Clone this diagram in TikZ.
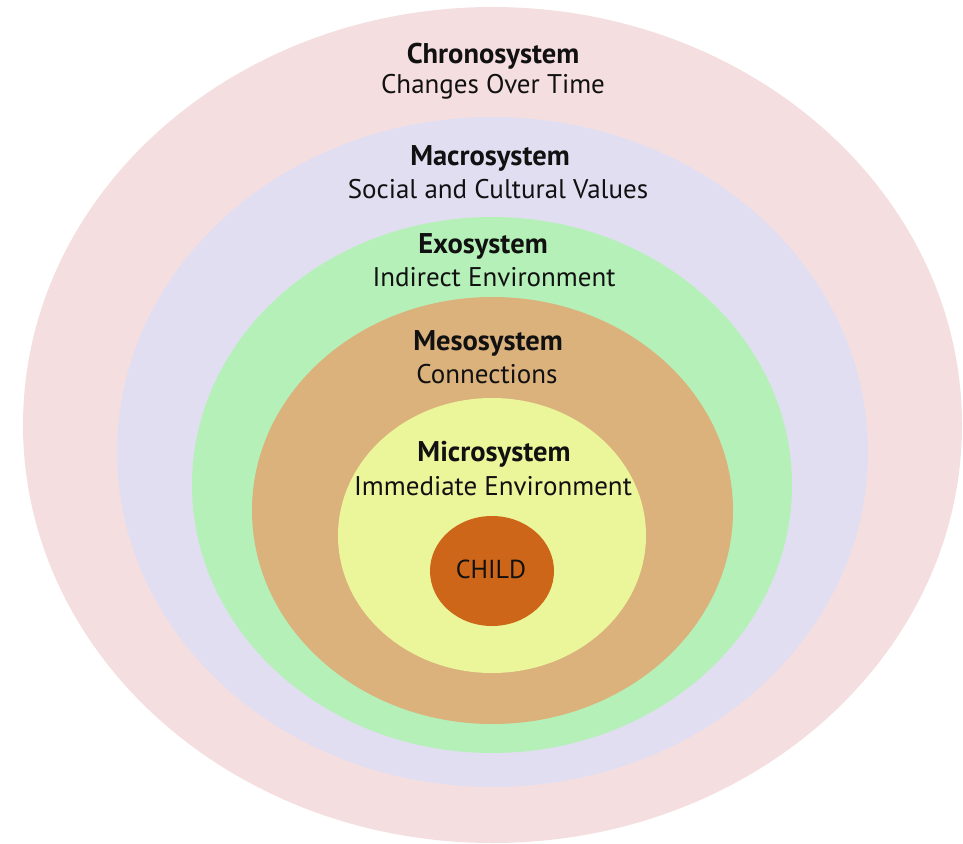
\documentclass[tikz,border=0pt]{standalone}
\usepackage{fontspec}
\setmainfont{PT Sans}
\usetikzlibrary{shapes.geometric}
\definecolor{chrono}{HTML}{F5DEDF}
\definecolor{macro}{HTML}{E2DEF2}
\definecolor{exo}{HTML}{B5F0B8}
\definecolor{meso}{HTML}{DBB17C}
\definecolor{micro}{HTML}{EBF59A}
\definecolor{child}{HTML}{CD6618}
\definecolor{txt}{HTML}{111111}
\tikzset{
  ring/.style={ellipse, inner sep=0pt, outer sep=0pt, draw=none},
  ttl/.style={font=\fontsize{28.5}{32}\selectfont\bfseries, text=txt, inner sep=0pt, anchor=center},
  sub/.style={font=\fontsize{27}{31}\selectfont, text=txt, inner sep=0pt, anchor=center}
}
\begin{document}
\begin{tikzpicture}[x=1pt,y=-1pt]
\useasboundingbox (0,0) rectangle (963,843);
\node[ring, fill=chrono, minimum width=939pt, minimum height=836pt] (chronoE) at (492.5,425) {};
\node[ring, fill=macro, minimum width=751pt, minimum height=670pt] (macroE) at (492.5,452) {};
\node[ring, fill=exo, minimum width=600pt, minimum height=536pt] (exoE) at (492,485) {};
\node[ring, fill=meso, minimum width=481pt, minimum height=427pt] (mesoE) at (492.5,510.5) {};
\node[ring, fill=micro, minimum width=308pt, minimum height=275pt] (microE) at (492,535.5) {};
\node[ring, fill=child, minimum width=124pt, minimum height=110pt] (childE) at (492,571) {};
\node[ttl] (chronoT) at (493,56) {Chronosystem};
\node[sub] (chronoS) at (493,87) {Changes Over Time};
\node[ttl] (macroT) at (490,158) {Macrosystem};
\node[sub] (macroS) at (498,189) {Social and Cultural Values};
\node[ttl] (exoT) at (483,246) {Exosystem};
\node[sub] (exoS) at (494,277) {Indirect Environment};
\node[ttl] (mesoT) at (488,343) {Mesosystem};
\node[sub] (mesoS) at (487,374) {Connections};
\node[ttl] (microT) at (494,454) {Microsystem};
\node[sub] (microS) at (493,486) {Immediate Environment};
\node[font=\fontsize{26}{30}\selectfont, text=txt, inner sep=0pt] (childT) at (491,569) {CHILD};
\end{tikzpicture}
\end{document}
